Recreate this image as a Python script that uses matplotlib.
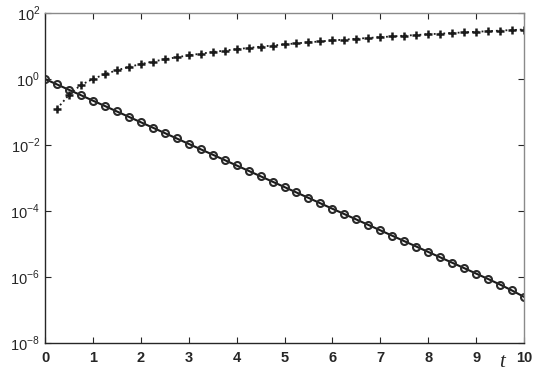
import matplotlib
matplotlib.use("Agg")
import matplotlib.pyplot as plt
from matplotlib.ticker import FixedLocator, NullLocator

plt.rcParams['font.family'] = ['Liberation Sans', 'DejaVu Sans']
plt.rcParams['mathtext.fontset'] = 'custom'
plt.rcParams['mathtext.rm'] = 'Liberation Sans'
plt.rcParams['mathtext.bf'] = 'Liberation Sans:bold'

# Decaying series (circles, solid line)
t_decay = [0, 0.25, 0.5, 0.75, 1, 1.25, 1.5, 1.75, 2, 2.25, 2.5, 2.75, 3, 3.25,
           3.5, 3.75, 4, 4.25, 4.5, 4.75, 5, 5.25, 5.5, 5.75, 6, 6.25, 6.5, 6.75,
           7, 7.25, 7.5, 7.75, 8, 8.25, 8.5, 8.75, 9, 9.25, 9.5, 9.75, 10]
y_decay = [1.0, 0.686, 0.470, 0.323, 0.221, 0.152, 0.104, 0.0714, 0.0490, 0.0336,
           0.0230, 0.0158, 0.0108, 0.00743, 0.00510, 0.00350, 0.00240, 0.00165,
           0.00113, 0.000774, 0.000531, 0.000364, 0.000250, 0.000171, 0.000117,
           8.06e-5, 5.53e-5, 3.79e-5, 2.60e-5, 1.78e-5, 1.22e-5, 8.39e-6, 5.75e-6,
           3.95e-6, 2.71e-6, 1.86e-6, 1.27e-6, 8.7e-7, 5.9e-7, 3.9e-7, 2.5e-7]

# Growing series (plus markers, dotted line)
t_grow = [0.25, 0.5, 0.75, 1, 1.25, 1.5, 1.75, 2, 2.25, 2.5, 2.75, 3, 3.25, 3.5,
          3.75, 4, 4.25, 4.5, 4.75, 5, 5.25, 5.5, 5.75, 6, 6.25, 6.5, 6.75, 7,
          7.25, 7.5, 7.75, 8, 8.25, 8.5, 8.75, 9, 9.25, 9.5, 9.75, 10]
y_grow = [0.125, 0.33, 0.66, 1.0, 1.40, 1.84, 2.32, 2.83, 3.38, 3.95, 4.56, 5.20,
          5.86, 6.55, 7.26, 8.00, 8.76, 9.55, 10.35, 11.18, 12.03, 12.90, 13.79,
          14.70, 15.63, 16.57, 17.54, 18.52, 19.52, 20.54, 21.57, 22.63, 23.70,
          24.78, 25.88, 27.00, 28.13, 29.28, 30.44, 31.62]

x_ticks = [0, 1, 2, 3, 4, 5, 6, 7, 8, 9, 10]
y_ticks = [1e-8, 1e-6, 1e-4, 1e-2, 1e0, 1e2]
y_tick_labels = [r'$10^{-8}$', r'$10^{-6}$', r'$10^{-4}$',
                 r'$10^{-2}$', r'$10^{0}$', r'$10^{2}$']

fig = plt.figure(figsize=(5.46, 3.74), dpi=100)
ax = fig.add_axes([45/546, 1-343/374, (524-45)/546, (343-13)/374])

ink = '#262626'
ax.plot(t_decay, y_decay, '-', color='#1a1a1a', lw=1.5, marker='o', ms=5,
        mfc='none', mec='#2a2a2a', mew=1.5)
ax.plot(t_grow, y_grow, ':', color='#1a1a1a', lw=1.3, marker='+', ms=6,
        mec='#1a1a1a', mew=1.8)

ax.set_yscale('log')
ax.set_xlim(0, 10)
ax.set_ylim(1e-8, 1e2)
ax.xaxis.set_major_locator(FixedLocator(x_ticks))
ax.set_xticklabels([str(v) for v in x_ticks], fontweight='bold')
ax.yaxis.set_major_locator(FixedLocator(y_ticks))
ax.yaxis.set_minor_locator(NullLocator())
ax.set_yticklabels(y_tick_labels)

ax.tick_params(axis='both', which='both', direction='in', length=4, width=0.8,
               colors=ink, labelsize=10.5, top=True, right=True)
ax.tick_params(axis='x', pad=6)
for side in ['left', 'bottom']:
    ax.spines[side].set_color(ink)
    ax.spines[side].set_linewidth(1.0)
for side in ['top', 'right']:
    ax.spines[side].set_color('#8a8a8a')
    ax.spines[side].set_linewidth(1.0)

ax.text(9.55, -0.03, 't', transform=ax.get_xaxis_transform(), ha='center',
        va='top', fontsize=15, style='italic', family='Liberation Serif', color=ink)

fig.savefig('out.png', dpi=100)
